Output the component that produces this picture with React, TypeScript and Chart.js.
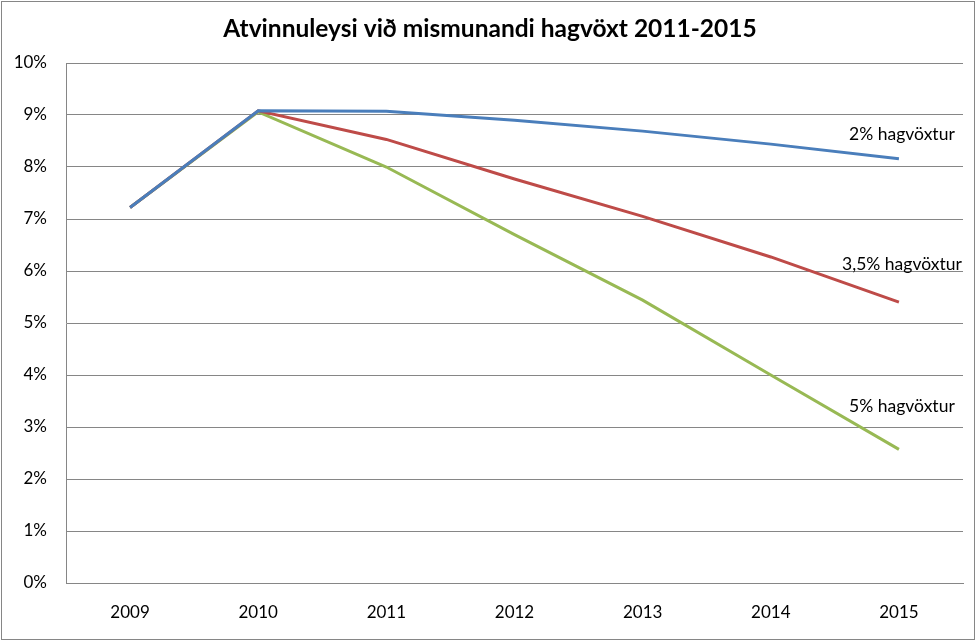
import React, { useEffect, useRef } from "react";
import { Chart, registerables } from "chart.js";

Chart.register(...registerables);

const TITLE = "Atvinnuleysi við mismunandi hagvöxt 2011-2015";
const years = ["2009", "2010", "2011", "2012", "2013", "2014", "2015"];
const growth2 = [7.22, 9.08, 9.07, 8.9, 8.69, 8.44, 8.16];
const growth35 = [7.22, 9.08, 8.53, 7.77, 7.05, 6.27, 5.4];
const growth5 = [7.22, 9.06, 8.0, 6.7, 5.44, 4.0, 2.57];
const seriesNames = ["2% hagvöxtur", "3,5% hagvöxtur", "5% hagvöxtur"];
const seriesColors = ["#4A7EBB", "#BE4B48", "#98B954"];
const labelAnchorValues = [8.62, 6.13, 3.4];

const FONT = "Lato, 'Open Sans', sans-serif";

export default function App() {
  const ref = useRef<HTMLCanvasElement>(null);
  useEffect(() => {
    if (!ref.current) return;
    const decor = {
      id: "decor",
      afterDraw(chart: any) {
        const ctx = chart.ctx;
        ctx.save();
        ctx.strokeStyle = "#868686";
        ctx.lineWidth = 1;
        ctx.strokeRect(1.5, 1.5, 973, 638);
        ctx.fillStyle = "#000";
        ctx.font = `bold 24.5px ${FONT}`;
        ctx.textAlign = "center";
        ctx.textBaseline = "middle";
        ctx.fillText(TITLE, 490, 29);
        ctx.font = `17.5px ${FONT}`;
        const xs = chart.scales.x;
        const ys = chart.scales.y;
        seriesNames.forEach((n, i) => {
          const x = xs.getPixelForValue(years.length - 1) + 3;
          const y = ys.getPixelForValue(labelAnchorValues[i]);
          ctx.fillText(n, x, y);
        });
        ctx.restore();
      },
    };
    const chart = new Chart(ref.current, {
      type: "line",
      data: {
        labels: years,
        datasets: [growth2, growth35, growth5].map((d, i) => ({
          label: seriesNames[i],
          data: d,
          borderColor: seriesColors[i],
          backgroundColor: seriesColors[i],
          borderWidth: 3,
          pointRadius: 0,
          tension: 0,
          fill: false,
        })),
      },
      options: {
        responsive: false,
        animation: false,
        layout: { padding: { left: 0, top: 63, right: 16, bottom: 0 } },
        plugins: {
          legend: { display: false },
          title: { display: false },
          tooltip: { enabled: false },
        },
        scales: {
          x: {
            offset: true,
            grid: { display: false, drawTicks: false },
            border: { display: true, color: "#868686", width: 1 },
            ticks: {
              color: "#000",
              font: { family: FONT, size: 17 },
              padding: 19,
              maxRotation: 0,
            },
            afterFit(scale: any) {
              scale.height = 58;
            },
          },
          y: {
            min: 0,
            max: 10,
            grid: { color: "#868686", drawTicks: false, lineWidth: 1 },
            border: { display: true, color: "#868686", width: 1 },
            ticks: {
              stepSize: 1,
              color: "#000",
              font: { family: FONT, size: 17 },
              padding: 19,
              callback: (v: any) => `${v}%`,
            },
            afterFit(scale: any) {
              scale.width = 66;
            },
          },
        },
      },
      plugins: [decor],
    });
    return () => chart.destroy();
  }, []);
  return (
    <div style={{ position: "fixed", left: 0, top: 0, width: 979, height: 641, background: "#fff" }}>
      <canvas ref={ref} width={979} height={641} style={{ display: "block" }} />
    </div>
  );
}
